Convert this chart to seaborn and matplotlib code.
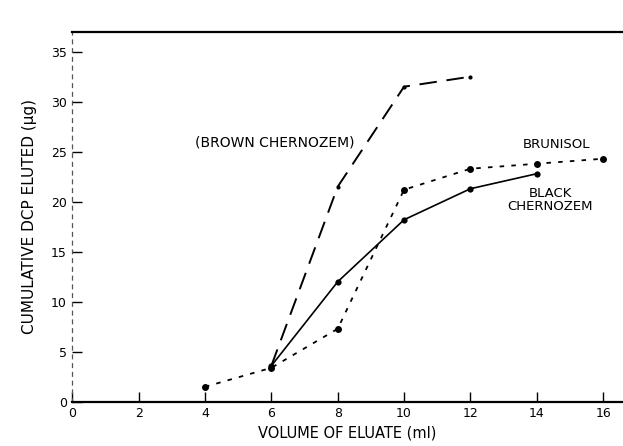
import matplotlib
matplotlib.use("Agg")
import matplotlib.pyplot as plt
import seaborn as sns

# Data
brown_x = [6, 8, 10, 12]
brown_y = [3.6, 21.5, 31.5, 32.5]

brunisol_x = [4, 6, 8, 10, 12, 14, 16]
brunisol_y = [1.5, 3.4, 7.3, 21.2, 23.3, 23.8, 24.3]

black_x = [6, 8, 10, 12, 14]
black_y = [3.6, 12.0, 18.2, 21.3, 22.8]

x_ticks = [0, 2, 4, 6, 8, 10, 12, 14, 16]
y_ticks = [0, 5, 10, 15, 20, 25, 30, 35]

sns.set_theme(style="white")
plt.rcParams['font.family'] = ['DejaVu Sans']
plt.rcParams['text.color'] = 'black'
plt.rcParams['axes.labelcolor'] = 'black'

fig = plt.figure(figsize=(6.23, 4.46), dpi=100)
ax = fig.add_axes([0.116, 0.099, 0.884, 0.830])

sns.lineplot(x=brown_x, y=brown_y, ax=ax, color="black", lw=1.4,
             marker="o", markersize=3, markeredgewidth=0)
ax.lines[-1].set_dashes([9, 5])

sns.lineplot(x=brunisol_x, y=brunisol_y, ax=ax, color="black", lw=1.3,
             marker="o", markersize=5, markeredgewidth=0)
ax.lines[-1].set_dashes([2.5, 4])

sns.lineplot(x=black_x, y=black_y, ax=ax, color="black", lw=1.2,
             marker="o", markersize=4.5, markeredgewidth=0)

ax.set_xlim(0, 16.6)
ax.set_ylim(0, 37)
ax.set_xticks(x_ticks)
ax.set_yticks(y_ticks)
ax.tick_params(axis="both", direction="in", length=7, width=1, color="black",
               labelsize=9, labelcolor="black", pad=4, left=True, bottom=True)

ax.spines["right"].set_visible(False)
ax.spines["top"].set_linewidth(1.6)
ax.spines["top"].set_color("black")
ax.spines["bottom"].set_linewidth(1.6)
ax.spines["bottom"].set_color("black")
ax.spines["left"].set_linewidth(0.9)
ax.spines["left"].set_color("#555555")
ax.spines["left"].set_linestyle((0, (3, 4)))

ax.set_xlabel("VOLUME OF ELUATE (ml)", fontsize=10.5, labelpad=4)
ax.set_ylabel("CUMULATIVE DCP ELUTED (\u00b5g)", fontsize=11, labelpad=10)

ax.text(6.1, 25.9, "(BROWN CHERNOZEM)", fontsize=10, ha="center", va="center")
ax.text(14.6, 25.7, "BRUNISOL", fontsize=9.5, ha="center", va="center")
ax.text(14.4, 20.2, "BLACK\nCHERNOZEM", fontsize=9.5, ha="center", va="center",
        linespacing=1.0)

fig.savefig("out.png", dpi=100)
